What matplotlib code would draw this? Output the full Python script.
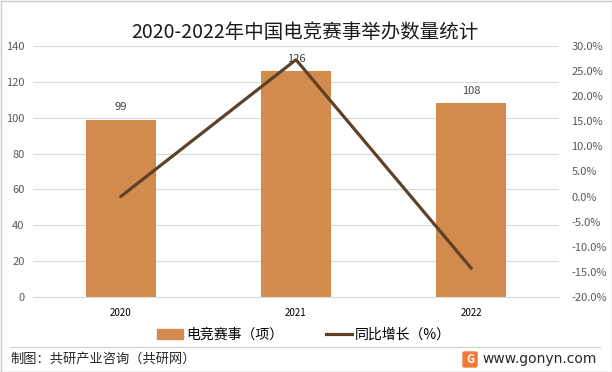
import matplotlib.pyplot as plt
import matplotlib.patches as mpatches
from matplotlib.lines import Line2D
from matplotlib.ticker import FuncFormatter

plt.rcParams['font.family'] = ['Noto Sans CJK SC', 'DejaVu Sans']

# ---- data ----
years = ["2020", "2021", "2022"]
events = [99, 126, 108]
growth = [0.0, 27.27, -14.29]

title = "2020-2022年中国电竞赛事举办数量统计"
bar_label = "电竞赛事（项）"
line_label = "同比增长（%）"
source = "制图：共研产业咨询（共研网）"
site = "www.gonyn.com"

BAR_C = "#D38B4D"
LINE_C = "#5E4228"
TICK_C = "#595959"

W, H = 612, 372
fig = plt.figure(figsize=(W / 100, H / 100), dpi=100)

# plot area in pixels: x 33-559, y 46-297
ax = fig.add_axes([33 / W, 1 - 297 / H, (559 - 33) / W, (297 - 46) / H])
x = list(range(len(years)))
bars = ax.bar(x, events, width=0.4, color=BAR_C, zorder=2)
ax.set_xlim(-0.5, len(years) - 0.5)
ax.set_ylim(0, 140)
ax.set_yticks(range(0, 141, 20))
ax.yaxis.grid(True, color="#D9D9D9", linewidth=0.8, zorder=0)
for s in ax.spines.values():
    s.set_visible(False)
ax.spines["bottom"].set_visible(True)
ax.spines["bottom"].set_color("#D9D9D9")
ax.tick_params(axis="y", length=0, labelsize=8, colors=TICK_C, pad=6)
ax.tick_params(axis="x", length=0, labelsize=7, pad=8)
ax.set_xticks(x)
ax.set_xticklabels(years)
for rect, v in zip(bars, events):
    ax.text(rect.get_x() + rect.get_width() / 2, v + 4, str(v),
            ha="center", va="bottom", fontsize=8, color="#404040", zorder=4)

ax2 = ax.twinx()
ax2.plot(x, growth, color=LINE_C, linewidth=2.3, zorder=3,
         solid_capstyle="round")
ax2.set_ylim(-20, 30)
ax2.set_yticks(range(-20, 31, 5))
ax2.yaxis.set_major_formatter(FuncFormatter(lambda v, p: f"{v:.1f}%"))
ax2.tick_params(axis="y", length=0, labelsize=8, colors=TICK_C, pad=9)
for s in ax2.spines.values():
    s.set_visible(False)

# title
fig.text(305 / W, 1 - 32 / H, title, ha="center", va="center", fontsize=14,
         color="#1a1a1a")

# legend
handles = [mpatches.Patch(color=BAR_C, label=bar_label),
           Line2D([0], [0], color=LINE_C, linewidth=2.3, label=line_label)]
fig.legend(handles=handles, loc="center", bbox_to_anchor=(304 / W, 1 - 335 / H),
           ncol=2, frameon=False, fontsize=10, handlelength=1.9,
           handleheight=0.8, columnspacing=3.1, handletextpad=0.2)

# footer
fig.add_artist(Line2D([10 / W, 600 / W], [1 - 347 / H, 1 - 347 / H],
                      color="#D0D0D0", linewidth=0.8))
fig.text(10 / W, 1 - 359 / H, source, ha="left", va="center", fontsize=9.5,
         color="#262626")
fig.add_artist(mpatches.FancyBboxPatch((463 / W, 1 - 367 / H), 14 / W, 15 / H,
                                       boxstyle="round,pad=0,rounding_size=0.003",
                                       color="#F07A3A", transform=fig.transFigure))
fig.text(470 / W, 1 - 359.5 / H, "G", ha="center", va="center", fontsize=8,
         color="white", fontweight="bold")
fig.text(597 / W, 1 - 359 / H, site, ha="right", va="center", fontsize=10,
         color="#262626", family="DejaVu Sans")

# outer border
fig.add_artist(mpatches.Rectangle((0.5 / W, 0.5 / H), (W - 1) / W, (H - 1) / H,
                                  fill=False, edgecolor="#C8C8C8", linewidth=1,
                                  transform=fig.transFigure))

fig.savefig("out.png", dpi=100)
